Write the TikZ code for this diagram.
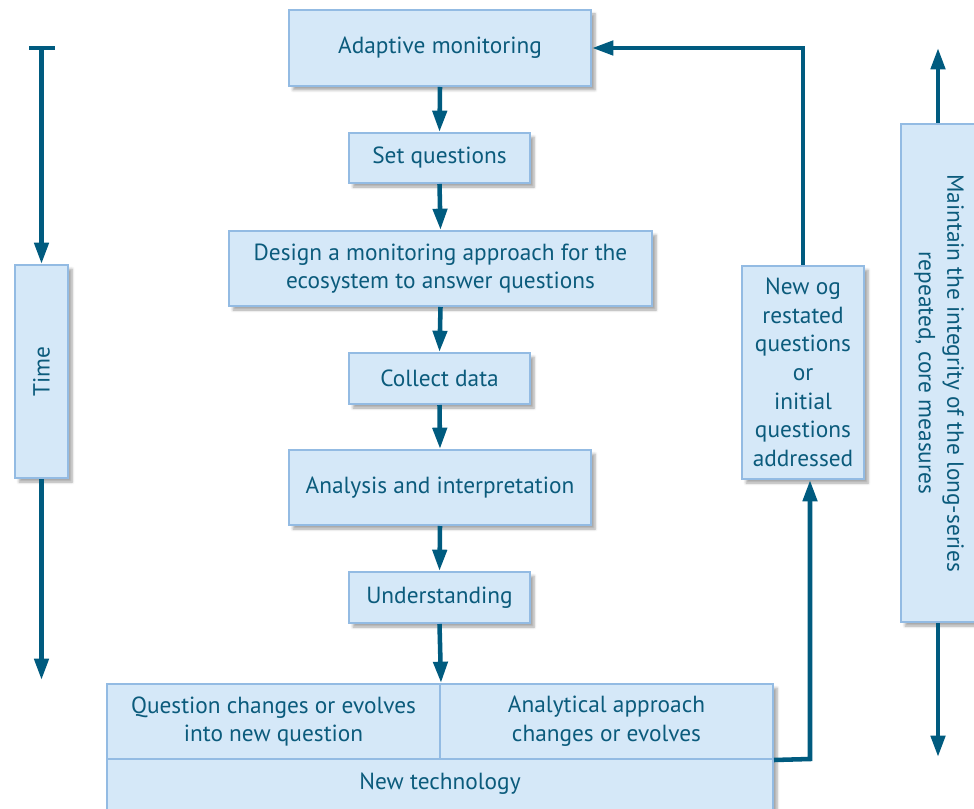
\documentclass[tikz,border=0pt]{standalone}
\usepackage{fontspec}
\setmainfont{PT Sans}
\usetikzlibrary{arrows.meta,shadows.blur,calc}
\definecolor{boxfill}{HTML}{D5E8F8}
\definecolor{boxline}{HTML}{93BBE3}
\definecolor{arrowc}{HTML}{005B7F}
\definecolor{textc}{HTML}{0B5B7C}
\begin{document}
\begin{tikzpicture}[x=0.75pt,y=-0.75pt,
  every node/.style={font=\fontsize{17.5}{21.5}\selectfont, text=textc},
  box/.style={draw=boxline, line width=1.5pt, fill=boxfill, align=center, inner sep=0pt,
    blur shadow={shadow xshift=3pt, shadow yshift=-3pt, shadow blur steps=6, shadow opacity=35}},
  flat/.style={draw=boxline, line width=1.5pt, fill=boxfill, align=center, inner sep=0pt},
  arr/.style={draw=arrowc, line width=3.4pt, -{Triangle[length=16pt, width=10.5pt]}},
  plain/.style={draw=arrowc, line width=3.4pt}]
\useasboundingbox (0,0) rectangle (974,809);
% central boxes
\node[box, minimum width=302*0.75pt, minimum height=76*0.75pt] (am) at (440,48) {Adaptive monitoring};
\node[box, minimum width=181*0.75pt, minimum height=50*0.75pt] (sq) at (439.5,158) {Set questions};
\node[box, minimum width=423*0.75pt, minimum height=75*0.75pt] (de) at (440.5,268.5) {Design a monitoring approach for the\\ecosystem to answer questions};
\node[box, minimum width=181*0.75pt, minimum height=51*0.75pt] (cd) at (439.5,378.5) {Collect data};
\node[box, minimum width=302*0.75pt, minimum height=75*0.75pt] (ai) at (440,487.5) {Analysis and interpretation};
\node[box, minimum width=181*0.75pt, minimum height=51*0.75pt] (un) at (439.5,597.5) {Understanding};
% bottom boxes
\node[box, minimum width=666*0.75pt, minimum height=139*0.75pt, anchor=north] (bg) at (440,683) {};
\node[flat, minimum width=666*0.75pt, minimum height=64*0.75pt] (nt) at (440,790) {};
\node at (440,784) {New technology};
\node[flat, minimum width=333*0.75pt, minimum height=75*0.75pt] (ql) at (273.5,721.5) {Question changes or evolves\\into new question};
\node[flat, minimum width=333*0.75pt, minimum height=75*0.75pt] (ar) at (606.5,721.5) {Analytical approach\\changes or evolves};
% side boxes
\node[box, minimum width=53*0.75pt, minimum height=213*0.75pt] (time) at (41.5,371.5) {};
\node[rotate=90] at (time.center) {Time};
\node[box, minimum width=122*0.75pt, minimum height=213*0.75pt] (nq) at (803,372.5) {New og\\restated\\questions\\or\\initial\\questions\\addressed};
\node[box, minimum width=76*0.75pt, minimum height=498*0.75pt] (mt) at (939,373) {};
\node[rotate=-90, align=center] at (mt.center) {Maintain the integrity of the long-series\\repeated, core measures};
% central arrows
\draw[arr] (am.south) -- (sq.north);
\draw[arr] (sq.south) -- (de.north);
\draw[arr] (de.south) -- (cd.north);
\draw[arr] (cd.south) -- (ai.north);
\draw[arr] (ai.south) -- (un.north);
\draw[arr] (un.south) -- (ql.north east);
% feedback loops
\draw[arr] (nq.north) |- (am.east);
\coordinate (c1) at (810,759);
\draw[arr] (ar.south east) -- (c1) -- (c1 |- nq.south);
% time arrow
\coordinate (tt) at (41.5,48);
\coordinate (tb) at (41.5,680);
\draw[plain] (29,48) -- (55,48);
\draw[arr] (tt) -- (time.north);
\draw[arr] (time.south) -- (tb);
% right arrows
\coordinate (rt) at (938,48);
\coordinate (rb) at (938,757);
\draw[arr] (mt.north -| rt) -- (rt);
\draw[arr] (mt.south -| rb) -- (rb);
\end{tikzpicture}
\end{document}
